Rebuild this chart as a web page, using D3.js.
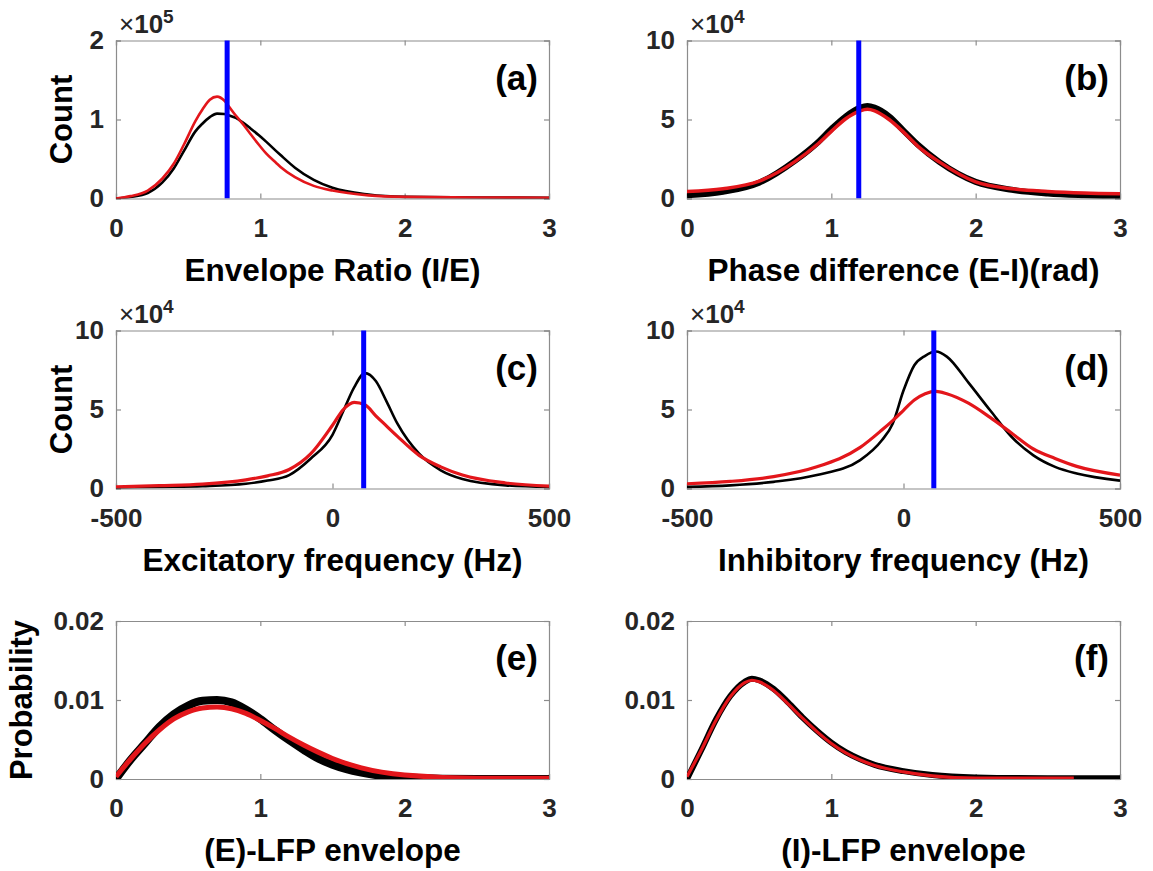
<!DOCTYPE html>
<html>
<head>
<meta charset="utf-8">
<script src="https://cdn.jsdelivr.net/npm/d3@7"></script>
<style>
  html, body { margin: 0; padding: 0; background: #fff; }
  svg { display: block; font-family: "Liberation Sans", Arial, sans-serif; }
</style>
</head>
<body>
<svg id="chart" width="1153" height="871"></svg>
<script>
// ---------- DATA ----------
// (a) Envelope ratio (I/E), counts in units of 1e5
const envRatioX     = [0, 0.1, 0.22, 0.32, 0.4, 0.47, 0.55, 0.6, 0.65, 0.7, 0.75, 0.78, 0.83, 0.88, 0.93, 0.99, 1.04, 1.11, 1.14, 1.24, 1.37, 1.5, 1.75, 2.0, 2.5, 3.0];
const envRatioBlack = [0, 0.02, 0.07, 0.2, 0.38, 0.6, 0.85, 0.95, 1.03, 1.075, 1.07, 1.055, 1.02, 0.96, 0.89, 0.8, 0.72, 0.6, 0.55, 0.39, 0.235, 0.135, 0.05, 0.02, 0.012, 0.01];
const envRatioRed   = [0, 0.03, 0.1, 0.25, 0.44, 0.68, 0.98, 1.13, 1.25, 1.29, 1.24, 1.17, 1.05, 0.94, 0.82, 0.68, 0.57, 0.45, 0.4, 0.27, 0.16, 0.1, 0.04, 0.02, 0.012, 0.01];
const envRatioMark  = 0.77;

// (b) Phase difference (E-I) (rad), counts in units of 1e4
const phaseX     = [0, 0.25, 0.5, 0.75, 0.9, 1.0, 1.1, 1.2, 1.25, 1.3, 1.4, 1.5, 1.6, 1.75, 2.0, 2.25, 2.5, 2.75, 3.0];
const phaseBlack = [0.2, 0.42, 1.0, 2.4, 3.5, 4.4, 5.2, 5.75, 5.85, 5.75, 5.2, 4.3, 3.4, 2.3, 1.05, 0.55, 0.32, 0.2, 0.12];
const phaseRed   = [0.45, 0.62, 1.1, 2.35, 3.4, 4.25, 5.05, 5.55, 5.65, 5.55, 5.0, 4.2, 3.3, 2.3, 1.05, 0.62, 0.45, 0.35, 0.3];
const phaseMark  = 1.19;

// (c) Excitatory frequency (Hz), counts in units of 1e4
const excFreqX     = [-500, -400, -300, -200, -150, -100, -50, 0, 25, 50, 75, 100, 125, 150, 200, 250, 300, 400, 500];
const excFreqBlack = [0.05, 0.1, 0.15, 0.3, 0.5, 0.85, 1.9, 3.4, 4.9, 6.4, 7.3, 6.8, 5.5, 4.1, 2.2, 1.15, 0.6, 0.2, 0.1];
const excFreqRed   = [0.1, 0.18, 0.28, 0.55, 0.8, 1.2, 2.2, 4.0, 5.0, 5.45, 5.3, 4.6, 3.95, 3.3, 2.1, 1.37, 0.85, 0.35, 0.15];
const excFreqMark  = 72;

// (d) Inhibitory frequency (Hz), counts in units of 1e4
const inhFreqX     = [-500, -400, -300, -200, -100, -50, -25, 0, 25, 50, 75, 100, 150, 200, 250, 300, 350, 400, 500];
const inhFreqBlack = [0.1, 0.2, 0.42, 0.85, 1.8, 3.05, 4.1, 6.2, 7.8, 8.4, 8.67, 8.35, 6.7, 4.95, 3.26, 2.1, 1.37, 0.95, 0.5];
const inhFreqRed   = [0.3, 0.45, 0.75, 1.37, 2.6, 3.7, 4.3, 4.95, 5.6, 6.0, 6.15, 6.0, 5.4, 4.5, 3.5, 2.5, 1.9, 1.4, 0.85];
const inhFreqMark  = 70;

// (e) (E)-LFP envelope, probability
const eEnvX     = [0, 0.1, 0.2, 0.3, 0.4, 0.5, 0.6, 0.7, 0.8, 0.9, 1.0, 1.1, 1.2, 1.3, 1.4, 1.5, 1.7, 2.0, 2.5, 3.0];
const eEnvBlack = [0, 0.0024, 0.0045, 0.0066, 0.0082, 0.0093, 0.0099, 0.01, 0.0097, 0.0088, 0.0076, 0.0062, 0.0049, 0.0037, 0.0026, 0.0018, 0.0008, 0.0002, 0, 0];
const eEnvRed   = [0.0003, 0.0025, 0.0045, 0.0062, 0.0076, 0.0085, 0.009, 0.0091, 0.0089, 0.0083, 0.0074, 0.0064, 0.0053, 0.0043, 0.0034, 0.0026, 0.0014, 0.0005, 0.0001, 0.0001];

// (f) (I)-LFP envelope, probability
const iEnvX     = [0, 0.1, 0.2, 0.3, 0.4, 0.45, 0.5, 0.6, 0.7, 0.8, 0.9, 1.0, 1.1, 1.2, 1.3, 1.5, 1.7, 2.0, 2.5, 2.68, 3.0];
const iEnvBlack = [0, 0.0037, 0.0075, 0.0105, 0.0123, 0.0127, 0.0125, 0.0114, 0.0097, 0.0078, 0.0061, 0.0046, 0.0034, 0.0025, 0.0018, 0.001, 0.0005, 0.0002, 0.0001, 0.0001, 0.0001];
const iEnvRed   = [0.0003, 0.0037, 0.0074, 0.0104, 0.0122, 0.0125, 0.0123, 0.0112, 0.0095, 0.0077, 0.006, 0.0045, 0.0033, 0.0024, 0.0017, 0.0009, 0.0004, 0.0001, 0.0001, 0.0001, null];

// Tick values / labels
const ticksEnv     = [0, 1, 2, 3];
const ticksFreq    = [-500, 0, 500];
const ticksCount2  = [0, 1, 2];
const ticksCount10 = [0, 5, 10];
const ticksProb    = [0, 0.01, 0.02];

// ---------- LAYOUT ----------
const colL = [116, 687];
const plotW = 433;
const rowT = [40.5, 330.5, 621];
const plotH = 158;

const probFmt = d => d === 0 ? "0" : d3.format(".2f")(d);
const panels = [
  { letter: "(a)", col: 0, row: 0, xd: [0, 3], yd: [0, 2], xt: ticksEnv, yt: ticksCount2, yfmt: d => d, exp: "5",
    xlab: "Envelope Ratio (I/E)", ylab: "Count", x: envRatioX, black: envRatioBlack, red: envRatioRed, mark: envRatioMark, bw: 2.6, rw: 2.6 },
  { letter: "(b)", col: 1, row: 0, xd: [0, 3], yd: [0, 10], xt: ticksEnv, yt: ticksCount10, yfmt: d => d, exp: "4",
    xlab: "Phase difference (E-I)(rad)", ylab: null, x: phaseX, black: phaseBlack, red: phaseRed, mark: phaseMark, bw: 6, rw: 3.5 },
  { letter: "(c)", col: 0, row: 1, xd: [-500, 500], yd: [0, 10], xt: ticksFreq, yt: ticksCount10, yfmt: d => d, exp: "4",
    xlab: "Excitatory frequency (Hz)", ylab: "Count", x: excFreqX, black: excFreqBlack, red: excFreqRed, mark: excFreqMark, bw: 2.6, rw: 3.2 },
  { letter: "(d)", col: 1, row: 1, xd: [-500, 500], yd: [0, 10], xt: ticksFreq, yt: ticksCount10, yfmt: d => d, exp: "4",
    xlab: "Inhibitory  frequency (Hz)", ylab: null, x: inhFreqX, black: inhFreqBlack, red: inhFreqRed, mark: inhFreqMark, bw: 2.6, rw: 3.2 },
  { letter: "(e)", col: 0, row: 2, xd: [0, 3], yd: [0, 0.02], xt: ticksEnv, yt: ticksProb, yfmt: probFmt, exp: null,
    xlab: "(E)-LFP envelope", ylab: "Probability", x: eEnvX, black: eEnvBlack, red: eEnvRed, mark: null, bw: 8, rw: 5 },
  { letter: "(f)", col: 1, row: 2, xd: [0, 3], yd: [0, 0.02], xt: ticksEnv, yt: ticksProb, yfmt: probFmt, exp: null,
    xlab: "(I)-LFP envelope", ylab: null, x: iEnvX, black: iEnvBlack, red: iEnvRed, mark: null, bw: 6, rw: 3.2 }
];

const svg = d3.select("#chart");
svg.append("rect").attr("width", 1153).attr("height", 871).attr("fill", "#fff");

const axisColor = "#8c8c8c";
const textColor = "#262626";
const tickLen = 5;
const FONT = "'Liberation Sans', Arial, sans-serif";

panels.forEach(p => {
  const L = colL[p.col], T = rowT[p.row];
  const x = d3.scaleLinear().domain(p.xd).range([L, L + plotW]);
  const y = d3.scaleLinear().domain(p.yd).range([T + plotH, T]);
  const g = svg.append("g");

  const clipId = "clip" + p.letter.replace(/[()]/g, "");
  svg.append("clipPath").attr("id", clipId).append("rect")
    .attr("x", L).attr("y", T - 4).attr("width", plotW).attr("height", plotH + 4);

  const xb = d3.axisBottom(x).tickValues(p.xt).tickSize(-tickLen).tickPadding(20).tickFormat(d => d);
  const xt = d3.axisTop(x).tickValues(p.xt).tickSize(-tickLen).tickFormat("");
  const yl = d3.axisLeft(y).tickValues(p.yt).tickSize(-tickLen).tickPadding(12).tickFormat(p.yfmt);
  const yr = d3.axisRight(y).tickValues(p.yt).tickSize(-tickLen).tickFormat("");

  const gxb = g.append("g").attr("transform", `translate(0,${T + plotH})`).call(xb);
  const gxt = g.append("g").attr("transform", `translate(0,${T})`).call(xt);
  const gyl = g.append("g").attr("transform", `translate(${L},0)`).call(yl);
  const gyr = g.append("g").attr("transform", `translate(${L + plotW},0)`).call(yr);
  [gxb, gxt, gyl, gyr].forEach(a => {
    a.select(".domain").attr("stroke", axisColor).attr("stroke-width", 1.2);
    a.selectAll(".tick line").attr("stroke", axisColor).attr("stroke-width", 1.2);
    a.selectAll(".tick text").attr("fill", textColor).attr("font-size", 26).attr("font-weight", "bold")
      .attr("font-family", FONT);
  });
  gxb.selectAll(".tick text").attr("dy", "0.71em");

  // data lines
  const pts = s => p.x.map((xv, i) => [xv, s[i]]);
  const line = d3.line().defined(d => d[1] != null).x(d => x(d[0])).y(d => y(d[1])).curve(d3.curveMonotoneX);
  const lg = svg.append("g").attr("clip-path", `url(#${clipId})`);
  lg.append("path").attr("d", line(pts(p.black))).attr("fill", "none").attr("stroke", "#000")
    .attr("stroke-width", p.bw).attr("stroke-linejoin", "round");
  lg.append("path").attr("d", line(pts(p.red))).attr("fill", "none").attr("stroke", "#e3161b")
    .attr("stroke-width", p.rw).attr("stroke-linejoin", "round");
  if (p.mark != null) {
    lg.append("line").attr("x1", x(p.mark)).attr("x2", x(p.mark)).attr("y1", T).attr("y2", T + plotH)
      .attr("stroke", "#0000ff").attr("stroke-width", 5);
  }

  // exponent label
  if (p.exp) {
    const t = svg.append("text").attr("x", L + 3).attr("y", T - 8).attr("fill", textColor).attr("font-size", 26);
    t.append("tspan").text("×").attr("font-weight", "normal");
    t.append("tspan").text("10").attr("font-weight", "bold");
    t.append("tspan").text(p.exp).attr("font-weight", "bold").attr("font-size", 19).attr("dy", -10);
  }

  // panel letter
  svg.append("text").attr("x", L + plotW - 11).attr("y", T + 49).attr("text-anchor", "end")
    .attr("font-size", 35).attr("font-weight", "bold").attr("fill", "#000").text(p.letter);

  // x label
  svg.append("text").attr("x", L + plotW / 2).attr("y", T + plotH + 82).attr("text-anchor", "middle")
    .attr("font-size", 31.5).attr("font-weight", "bold").attr("fill", "#000").text(p.xlab);

  // y label
  if (p.ylab) {
    const yx = p.ylab === "Probability" ? L - 84 : L - 44;
    svg.append("text").attr("transform", `translate(${yx},${T + plotH / 2}) rotate(-90)`)
      .attr("text-anchor", "middle").attr("font-size", 31).attr("font-weight", "bold").attr("fill", "#000").text(p.ylab);
  }
});
</script>
</body>
</html>
